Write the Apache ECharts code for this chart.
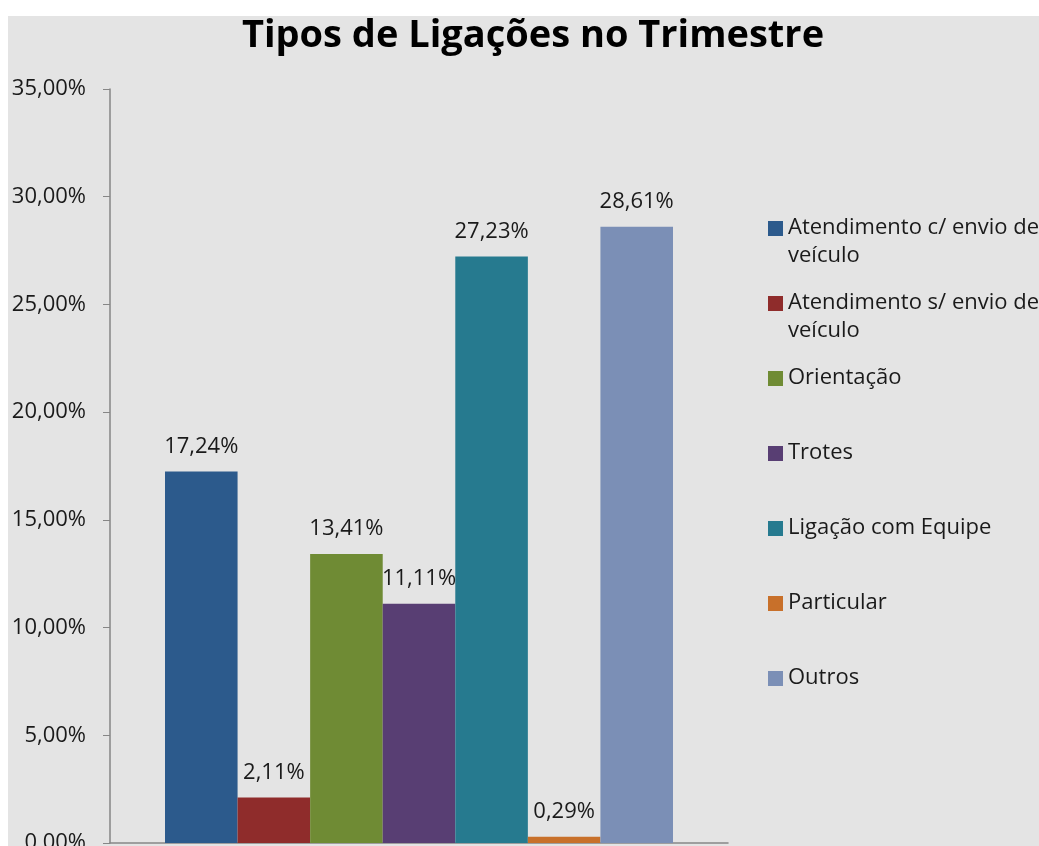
<!DOCTYPE html>
<html>
<head>
<meta charset="utf-8">
<script src="https://cdn.jsdelivr.net/npm/echarts@6/dist/echarts.min.js"></script>
<style>
    html, body { margin: 0; padding: 0; background: #ffffff; }
    #chart { position: absolute; left: 8px; top: 16px; width: 1031px; height: 830px; }
</style>
</head>
<body>
<div id="chart"></div>
<script>
// tipos de ligacoes - dados do trimestre
var categories = [''];
var seriesNames = [
    'Atendimento c/ envio de\nveículo',
    'Atendimento s/ envio de\nveículo',
    'Orientação\n ',
    'Trotes\n ',
    'Ligação com Equipe\n ',
    'Particular\n ',
    'Outros\n '
];
var seriesValues = [17.24, 2.11, 13.41, 11.11, 27.23, 0.29, 28.61];
var seriesColors = ['#2c5a8c', '#8f2c2b', '#6f8b34', '#583e73', '#267a8f', '#c8702a', '#7b8fb6'];

var chart = new function () {
    var me = this;

    this.fmt = function (v) {
        return v.toFixed(2).replace('.', ',') + '%';
    }

    this.buildSeries = function () {
        var list = [];
        for (var i = 0; i < seriesNames.length; i++) {
            list.push({
                name: seriesNames[i],
                type: 'bar',
                data: [seriesValues[i]],
                barGap: '0%',
                barCategoryGap: '17.8%',
                itemStyle: { color: seriesColors[i] },
                label: {
                    show: true,
                    position: 'top',
                    distance: 14,
                    color: '#1a1a1a',
                    fontSize: 22,
                    fontFamily: 'Open Sans',
                    formatter: function (p) { return me.fmt(p.value); }
                }
            });
        }
        return list;
    }

    this.load = function () {
        var myChart = echarts.init(document.getElementById('chart'));
        var option = {
            backgroundColor: '#e4e4e4',
            animation: false,
            title: {
                text: 'Tipos de Ligações no Trimestre',
                left: 525,
                textAlign: 'center',
                top: 1,
                padding: 0,
                textStyle: { fontFamily: 'Open Sans', fontWeight: 'bold', fontSize: 38, color: '#000' }
            },
            grid: { left: 102, right: 311, top: 73, bottom: 3, outerBoundsMode: 'none' },
            legend: {
                orient: 'vertical',
                left: 760,
                top: 198,
                padding: 0,
                itemGap: 19,
                itemWidth: 15,
                itemHeight: 42,
                icon: 'path://M0,0H15V15H0Z M0,41.9H0.1V42H0Z',
                textStyle: { fontFamily: 'Open Sans', fontSize: 22, color: '#1a1a1a', lineHeight: 28 },
                data: seriesNames
            },
            xAxis: {
                type: 'category',
                data: categories,
                axisLine: { lineStyle: { color: '#868686', width: 1.5 } },
                axisTick: { show: false },
                axisLabel: { show: false }
            },
            yAxis: {
                type: 'value',
                min: 0,
                max: 35,
                interval: 5,
                splitLine: { show: false },
                axisLine: { show: true, lineStyle: { color: '#868686', width: 1.5 } },
                axisTick: { show: true, length: 7, lineStyle: { color: '#868686' } },
                axisLabel: {
                    margin: 24,
                    color: '#1a1a1a',
                    fontSize: 22,
                    fontFamily: 'Open Sans',
                    formatter: function (v) { return me.fmt(v); }
                }
            },
            series: me.buildSeries()
        };
        myChart.setOption(option);
    }
};

chart.load();
</script>
</body>
</html>
